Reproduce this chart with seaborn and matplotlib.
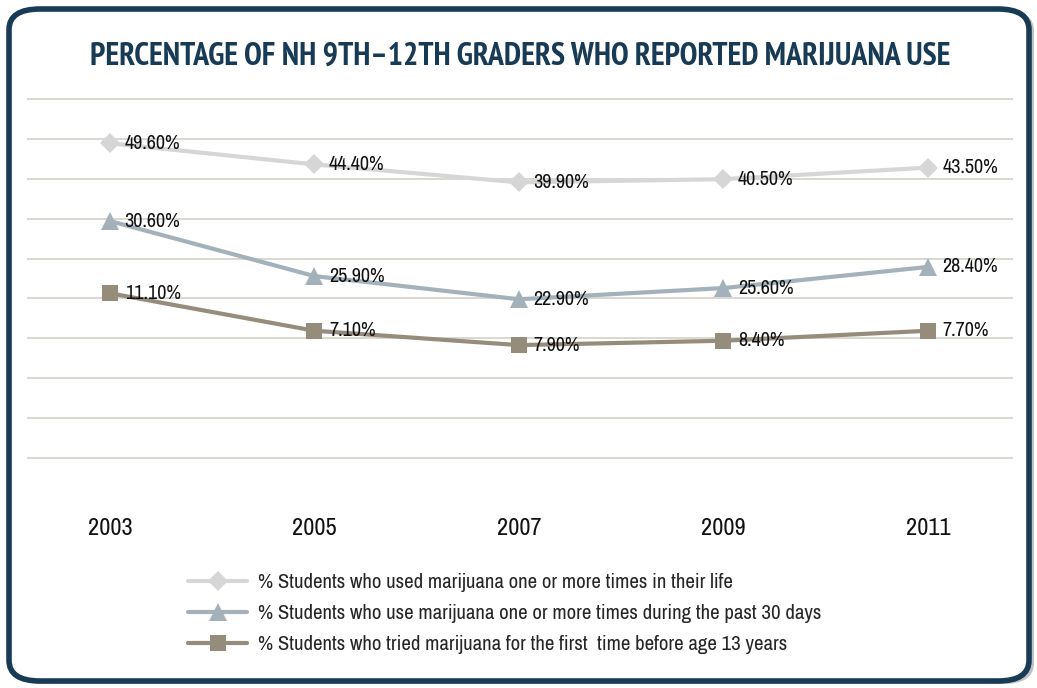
import matplotlib
matplotlib.use("Agg")
import matplotlib.pyplot as plt
from matplotlib import font_manager
from matplotlib.patches import FancyBboxPatch
import seaborn as sns
import pandas as pd

# --- data -------------------------------------------------------------
years = ["2003", "2005", "2007", "2009", "2011"]

# reported values (shown as data labels)
lifetime = [49.6, 44.4, 39.9, 40.5, 43.5]
past_30_days = [30.6, 25.9, 22.9, 25.6, 28.4]
before_13 = [11.1, 7.1, 7.9, 8.4, 7.7]

# where the points are actually drawn in the source chart
lifetime_drawn = [48.9, 43.6, 39.1, 39.9, 42.8]
past_30_drawn = [29.4, 15.6, 9.8, 12.6, 17.9]
before_13_drawn = [11.3, 1.9, -1.7, -0.6, 1.9]

series_names = [
    "% Students who used marijuana one or more times in their life",
    "% Students who use marijuana one or more times during the past 30 days",
    "% Students who tried marijuana for the first  time before age 13 years",
]
series_colors = ["#D6D6D6", "#A3B1BB", "#968C7B"]
series_markers = ["D", "^", "s"]

title = "PERCENTAGE OF NH 9TH\u201312TH GRADERS WHO REPORTED MARIJUANA USE"
NAVY = "#173A55"

NARROW = ["Liberation Sans Narrow", "Arial Narrow", "Archivo Narrow",
          "PT Sans Narrow", "Roboto Condensed", "Pragati Narrow",
          "Open Sans Condensed", "Fira Sans Condensed",
          "IBM Plex Sans Condensed", "Barlow Condensed", "Asap Condensed"]


def _weight(w):
    if isinstance(w, (int, float)):
        return w
    return {"bold": 700, "heavy": 800, "black": 900, "semibold": 600,
            "demibold": 600}.get(str(w).lower(), 400)


def pick_font(bold=False):
    """First installed Arial Narrow look-alike (with a bold face if asked)."""
    fonts = font_manager.fontManager.ttflist
    for name in NARROW:
        faces = [f for f in fonts if f.name == name and f.style == "normal"]
        if not faces:
            continue
        if bold and not any(_weight(f.weight) >= 700 for f in faces):
            continue
        return name
    return "Liberation Sans"


# --- figure -----------------------------------------------------------
sns.set_theme(style="white")
body_font = pick_font()
title_font = pick_font(bold=True)
plt.rcParams["font.family"] = [body_font, "DejaVu Sans"]

fig = plt.figure(figsize=(10.37, 6.88), dpi=100)
W, H = 1037, 688

# rounded frame with a soft shadow
shadow = FancyBboxPatch((12 / W, 4 / H), 1022 / W, 674 / H,
                        boxstyle="round,pad=0,rounding_size=0.03",
                        transform=fig.transFigure, facecolor="#9a9a9a",
                        edgecolor="none", alpha=0.6, zorder=0)
frame = FancyBboxPatch((9 / W, 7 / H), 1020 / W, 672 / H,
                       boxstyle="round,pad=0,rounding_size=0.03",
                       transform=fig.transFigure, facecolor="white",
                       edgecolor=NAVY, linewidth=4, zorder=1)
fig.patches.extend([shadow, frame])

ax = fig.add_axes([27 / W, (H - 460) / H, 986 / W, 363 / H])
ax.set_facecolor("none")
ax.set_zorder(2)

x = list(range(len(years)))
drawn = [lifetime_drawn, past_30_drawn, before_13_drawn]
reported = [lifetime, past_30_days, before_13]

for name, yv, color, mk in zip(series_names, drawn, series_colors, series_markers):
    df = pd.DataFrame({"x": x, "y": yv})
    ms = {"D": 10, "^": 13, "s": 12}[mk]
    sns.lineplot(data=df, x="x", y="y", ax=ax, color=color, linewidth=3,
                 marker=mk, markersize=ms, markeredgewidth=0, label=name,
                 zorder=3)

for yv, vals in zip(drawn, reported):
    for xi, yi, v in zip(x, yv, vals):
        ax.annotate(f"{v:.2f}%", (xi, yi), xytext=(10.5, 0),
                    textcoords="offset points", ha="left", va="center",
                    fontsize=14.5, color="#111111", zorder=4)

# gridlines every 10 units
for g in range(-30, 61, 10):
    ax.axhline(g, color="#D9D8D0", linewidth=1.4, zorder=1)

ax.set_xlim(-0.406, 4.416)
ax.set_ylim(-30.5, 60.5)
ax.set_xticks(x)
ax.set_xticklabels(years, fontsize=17.5, color="#111111")
ax.tick_params(axis="x", length=0, pad=42)
ax.set_yticks([])
ax.set_xlabel("")
ax.set_ylabel("")
for s in ax.spines.values():
    s.set_visible(False)

ax.legend(loc="upper left", bbox_to_anchor=(188 / W, 1 - 573 / H),
          bbox_transform=fig.transFigure, frameon=False, fontsize=15,
          handlelength=2.85, handletextpad=0.5, labelspacing=0.58,
          borderaxespad=0, borderpad=0)

fig.text(520 / W, 1 - 57 / H, title, ha="center", va="center",
         fontsize=23, fontweight="bold", family=[title_font, "DejaVu Sans"],
         color=NAVY, zorder=3)

fig.savefig("out.png", dpi=100)
